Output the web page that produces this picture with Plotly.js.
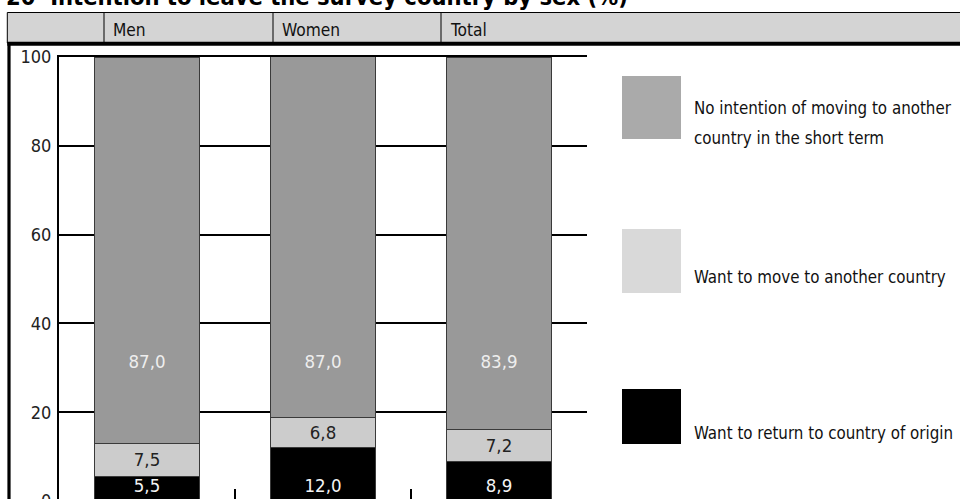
<!DOCTYPE html>
<html>
<head>
<meta charset="utf-8">
<script src="https://cdn.plot.ly/plotly-3.0.1.min.js"></script>
<style>
  html, body { margin: 0; padding: 0; overflow: hidden; background: #fff; width: 960px; height: 499px; }
  #chart { position: absolute; left: 0; top: -20px; width: 960px; height: 580px; }
</style>
</head>
<body>
<div id="chart"></div>
<script>
// ---- data ----
const categories = ['Men', 'Women', 'Total'];
const returnOrigin = [5.5, 12.0, 8.9];
const moveAnother = [7.5, 6.8, 7.2];
const noIntention = [87.0, 87.0, 83.9];
const seriesNames = [
  'Want to return to country of origin',
  'Want to move to another country',
  'No intention of moving to another country in the short term'
];
const yTickVals = [0, 20, 40, 60, 80, 100];
const titleText = '20\u00a0\u00a0Intention to leave the survey country by sex (%)';

// ---- styling helpers ----
const FONT = '"DejaVu Sans Condensed", "Liberation Sans Narrow", "DejaVu Sans", sans-serif';
const fmt = v => v.toFixed(1).replace('.', ',');
// map reference pixel coords to paper coords (plot area: x 59..587, y 57..501)
const px = X => (X - 59) / 528;
const py = Y => (501 - Y) / 444;

function wrap(s, max) {
  const words = s.split(' '); const lines = []; let cur = '';
  words.forEach(w => {
    if ((cur + (cur ? ' ' : '') + w).length > max && cur) { lines.push(cur); cur = w; }
    else cur = cur + (cur ? ' ' : '') + w;
  });
  if (cur) lines.push(cur);
  return lines;
}

const barLine = { color: '#3a3a3a', width: 1.2 };
const traces = [
  { type: 'bar', x: categories, y: returnOrigin, name: seriesNames[0],
    marker: { color: '#000000', line: barLine }, width: 0.6, textposition: 'none', hoverinfo: 'skip' },
  { type: 'bar', x: categories, y: moveAnother, name: seriesNames[1],
    marker: { color: '#cccccc', line: barLine }, width: 0.6,
    text: moveAnother.map(fmt), textposition: 'inside', insidetextanchor: 'middle',
    textangle: 0, constraintext: 'none',
    textfont: { family: FONT, size: 18.5, color: '#222222' }, hoverinfo: 'skip' },
  { type: 'bar', x: categories, y: noIntention, name: seriesNames[2],
    marker: { color: '#999999', line: barLine }, width: 0.6, textposition: 'none', hoverinfo: 'skip' },
  // value labels for black segments (placed low in the bar)
  { type: 'scatter', mode: 'text', x: categories, y: categories.map(() => 3.0),
    text: returnOrigin.map(fmt), textposition: 'middle center',
    textfont: { family: FONT, size: 18.5, color: '#f4f4f4' }, hoverinfo: 'skip', cliponaxis: false },
  // value labels for dark grey segments
  { type: 'scatter', mode: 'text', x: categories, y: categories.map(() => 31.0),
    text: noIntention.map(fmt), textposition: 'middle center',
    textfont: { family: FONT, size: 18.5, color: '#eeeeee' }, hoverinfo: 'skip' }
];

const shapes = [];
const annotations = [];

// title
annotations.push({ xref: 'paper', yref: 'paper', x: px(4), y: py(13.5), xanchor: 'left', yanchor: 'bottom',
  text: '<b>' + titleText + '</b>', showarrow: false,
  font: { family: FONT, size: 23.5, color: '#000' } });

// header band
shapes.push({ type: 'rect', xref: 'paper', yref: 'paper', x0: px(7.3), x1: px(962), y0: py(12.5), y1: py(43),
  fillcolor: '#d4d4d4', line: { color: '#000', width: 1 }, layer: 'above' });
[104, 273, 441].forEach((X, i) => {
  shapes.push({ type: 'line', xref: 'paper', yref: 'paper', x0: px(X), x1: px(X), y0: py(12.5), y1: py(43),
    line: { color: '#000', width: 1 } });
  annotations.push({ xref: 'paper', yref: 'paper', x: px(X + 7), y: py(30), xanchor: 'left', yanchor: 'middle',
    text: categories[i], showarrow: false, font: { family: FONT, size: 17.2, color: '#111' } });
});
shapes.push({ type: 'line', xref: 'paper', yref: 'paper', x0: px(7.3), x1: px(962), y0: py(43.8), y1: py(43.8),
  line: { color: '#000', width: 4 } });
shapes.push({ type: 'line', xref: 'paper', yref: 'paper', x0: px(9), x1: px(9), y0: py(42), y1: py(520),
  line: { color: '#000', width: 3.2 } });

// legend (drawn manually to match large swatches)
const legendSpec = [
  { idx: 2, color: '#aaaaaa', y0: 76, y1: 139, textY: [108, 138] },
  { idx: 1, color: '#d9d9d9', y0: 229, y1: 293, textY: [277] },
  { idx: 0, color: '#000000', y0: 389, y1: 444, textY: [433] }
];
legendSpec.forEach(s => {
  shapes.push({ type: 'rect', xref: 'paper', yref: 'paper', x0: px(622), x1: px(681), y0: py(s.y1), y1: py(s.y0),
    fillcolor: s.color, line: { width: 0 } });
  const lines = wrap(seriesNames[s.idx], 35);
  lines.forEach((ln, k) => {
    annotations.push({ xref: 'paper', yref: 'paper', x: px(692), y: py(s.textY[k]), xanchor: 'left', yanchor: 'middle',
      text: ln, showarrow: false, font: { family: FONT, size: 16.8, color: '#111' } });
  });
});

const layout = {
  width: 960, height: 580,
  margin: { l: 59, r: 373, t: 77, b: 59, pad: 0 },
  paper_bgcolor: '#ffffff', plot_bgcolor: '#ffffff',
  barmode: 'stack', bargap: 0.4,
  showlegend: false,
  font: { family: FONT, color: '#222' },
  xaxis: {
    type: 'category', categoryorder: 'array', categoryarray: categories,
    range: [-0.5, 2.5], showticklabels: false,
    ticks: 'inside', tickson: 'boundaries', ticklen: 12, tickwidth: 2, tickcolor: '#000',
    showline: true, linecolor: '#000', linewidth: 2, mirror: true,
    showgrid: false, zeroline: false, fixedrange: true
  },
  yaxis: {
    range: [0, 100], tickvals: yTickVals, ticktext: yTickVals.map(String),
    ticks: '', showline: true, linecolor: '#000', linewidth: 2,
    showgrid: true, gridcolor: '#000', gridwidth: 2, zeroline: false,
    tickfont: { family: FONT, size: 18, color: '#222' }, ticklabelstandoff: 2, fixedrange: true
  },
  shapes: shapes,
  annotations: annotations
};

Plotly.newPlot('chart', traces, layout, { displayModeBar: false, staticPlot: true });
</script>
</body>
</html>
